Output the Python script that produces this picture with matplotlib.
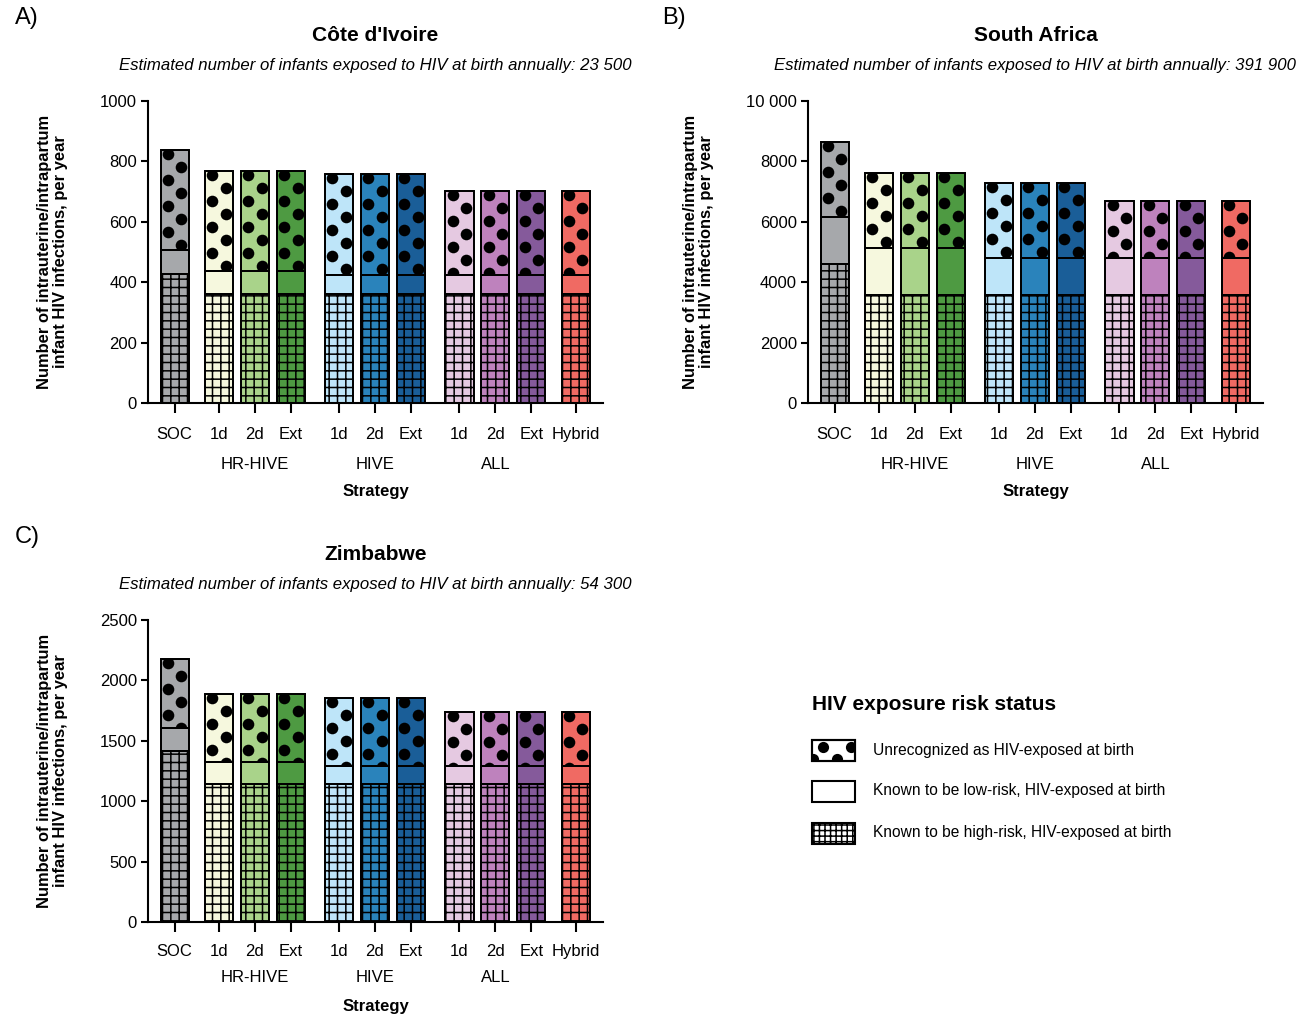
import numpy as np
import matplotlib.pyplot as plt
from matplotlib.patches import Rectangle

plt.rcParams['font.family'] = ['Liberation Sans', 'DejaVu Sans']
plt.rcParams['hatch.linewidth'] = 1.1

# Estrategias (eje x)
estrategias = ['SOC', '1d', '2d', 'Ext', '1d', '2d', 'Ext', '1d', '2d', 'Ext', 'Hybrid']
grupos = ['HR-HIVE', 'HIVE', 'ALL']
indicesGrupos = [[1, 2, 3], [4, 5, 6], [7, 8, 9]]
colores = ['#a6a8ab', '#f6f8de', '#a9d38a', '#4e9a42', '#bee5f9', '#2a83bb',
           '#1a5e98', '#e5c9e1', '#be82bd', '#855a9b', '#f06a63']

# Côte d'Ivoire: alto riesgo, bajo riesgo, no reconocido
ciAlto = [427, 360, 360, 360, 360, 360, 360, 360, 360, 360, 360]
ciBajo = [80, 77, 77, 77, 64, 64, 64, 64, 64, 64, 64]
ciNoRec = [331, 331, 331, 331, 333, 333, 333, 277, 277, 277, 277]

# South Africa
saAlto = [4600, 3580, 3580, 3580, 3580, 3580, 3580, 3580, 3580, 3580, 3580]
saBajo = [1570, 1560, 1560, 1560, 1210, 1210, 1210, 1210, 1210, 1210, 1210]
saNoRec = [2480, 2480, 2480, 2480, 2490, 2490, 2490, 1910, 1910, 1910, 1910]

# Zimbabwe
ziAlto = [1415, 1140, 1140, 1140, 1140, 1140, 1140, 1140, 1140, 1140, 1140]
ziBajo = [193, 185, 185, 185, 151, 151, 151, 151, 151, 151, 151]
ziNoRec = [567, 565, 565, 565, 560, 560, 560, 447, 447, 447, 447]

leyendaTitulo = 'HIV exposure risk status'
leyendaTextos = ['Unrecognized as HIV-exposed at birth',
                 'Known to be low-risk, HIV-exposed at birth',
                 'Known to be high-risk, HIV-exposed at birth']

separacion = [0, 1.23, 1, 1, 1.34, 1, 1, 1.35, 1, 1, 1.23]
posiciones = np.cumsum(separacion)
ancho = 0.78
altoEjePx = 302


def dibujarPanel(ax, alto, bajo, noRec, ymax, paso, etiquetasY, titulo, subtitulo, offsetLabel,
                 offsetGrupo=44.5, offsetEstrategia=64, padX=10):
    alto = np.array(alto)
    bajo = np.array(bajo)
    noRec = np.array(noRec)
    ax.bar(posiciones, alto, ancho, color=colores, edgecolor='black', linewidth=1.3, hatch='++', zorder=2)
    ax.bar(posiciones, bajo, ancho, bottom=alto, color=colores, edgecolor='black', linewidth=1.3, zorder=2)
    barrasPuntos = ax.bar(posiciones, noRec, ancho, bottom=alto + bajo, color=colores,
                          edgecolor='black', linewidth=1.3, zorder=2)

    # puntos negros del segmento no reconocido
    dy = 13 / altoEjePx * ymax
    for barra in barrasPuntos:
        x0 = barra.get_x() + barra.get_width() / 2
        yTop = barra.get_y() + barra.get_height()
        ys = np.arange(yTop - 4 / altoEjePx * ymax, barra.get_y() - dy, -dy)
        xs = x0 + np.where(np.arange(len(ys)) % 2 == 0, -0.19, 0.19)
        sc = ax.scatter(xs, ys, s=70, color='black', linewidths=0, zorder=3)
        sc.set_clip_path(barra)

    # contornos encima
    ax.bar(posiciones, alto, ancho, fill=False, edgecolor='black', linewidth=1.3, zorder=4)
    ax.bar(posiciones, bajo, ancho, bottom=alto, fill=False, edgecolor='black', linewidth=1.3, zorder=4)
    ax.bar(posiciones, noRec, ancho, bottom=alto + bajo, fill=False, edgecolor='black', linewidth=1.3, zorder=4)

    ax.set_xlim(posiciones[0] - 0.74, posiciones[-1] + 0.76)
    ax.set_ylim(0, ymax)
    ax.set_yticks(np.arange(0, ymax + paso, paso))
    ax.set_yticklabels(etiquetasY)
    ax.set_xticks(posiciones)
    ax.set_xticklabels(estrategias)
    ax.tick_params(axis='x', length=7, width=1.5, labelsize=12, pad=padX)
    ax.tick_params(axis='y', length=5, width=1.5, labelsize=12, pad=3)
    ax.spines['top'].set_visible(False)
    ax.spines['right'].set_visible(False)
    ax.spines['left'].set_linewidth(1.5)
    ax.spines['bottom'].set_linewidth(1.5)

    for grupo, idx in zip(grupos, indicesGrupos):
        xc = np.mean(posiciones[idx])
        ax.annotate(grupo, xy=(xc, 0), xycoords=('data', 'axes fraction'), xytext=(0, -offsetGrupo),
                    textcoords='offset points', ha='center', va='center', fontsize=12)
    ax.annotate('Strategy', xy=(0.5, 0), xycoords='axes fraction', xytext=(0, -offsetEstrategia),
                textcoords='offset points', ha='center', va='center', fontsize=12, fontweight='bold')
    ax.annotate('Number of intrauterine/intrapartum\ninfant HIV infections, per year', xy=(0, 0.5),
                xycoords='axes fraction', xytext=(-offsetLabel, 0), textcoords='offset points',
                ha='center', va='center', rotation=90, fontsize=11.9, fontweight='bold',
                multialignment='center', linespacing=1.1)
    ax.annotate(titulo, xy=(0.5, 1), xycoords='axes fraction', xytext=(0, 47),
                textcoords='offset points', ha='center', va='center', fontsize=15, fontweight='bold')
    ax.annotate(subtitulo, xy=(0.5, 1), xycoords='axes fraction', xytext=(0, 25.5),
                textcoords='offset points', ha='center', va='center', fontsize=12.1, style='italic')


fig = plt.figure(figsize=(12.97, 10.17), dpi=100)
W, H = 1297, 1017

# eje auxiliar en pixeles para la leyenda
lax = fig.add_axes([0, 0, 1, 1])
lax.set_xlim(0, W)
lax.set_ylim(H, 0)
lax.axis('off')

axA = fig.add_axes([148 / W, 1 - 403 / H, 455 / W, 302 / H])
axB = fig.add_axes([808 / W, 1 - 403 / H, 455 / W, 302 / H])
axC = fig.add_axes([148 / W, 1 - 922 / H, 455 / W, 302 / H])

dibujarPanel(axA, ciAlto, ciBajo, ciNoRec, 1000, 200,
             ['0', '200', '400', '600', '800', '1000'], "Côte d'Ivoire",
             'Estimated number of infants exposed to HIV at birth annually: 23 500', 69)
dibujarPanel(axB, saAlto, saBajo, saNoRec, 10000, 2000,
             ['0', '2000', '4000', '6000', '8000', '10 000'], 'South Africa',
             'Estimated number of infants exposed to HIV at birth annually: 391 900', 79)
dibujarPanel(axC, ziAlto, ziBajo, ziNoRec, 2500, 500,
             ['0', '500', '1000', '1500', '2000', '2500'], 'Zimbabwe',
             'Estimated number of infants exposed to HIV at birth annually: 54 300', 69,
             offsetGrupo=40, offsetEstrategia=60.5, padX=9)

fig.text(27 / W, 1 - 18 / H, 'A)', fontsize=17, ha='center', va='center')
fig.text(674 / W, 1 - 18 / H, 'B)', fontsize=17, ha='center', va='center')
fig.text(27 / W, 1 - 537 / H, 'C)', fontsize=17, ha='center', va='center')

# leyenda
lax.text(812, 705, leyendaTitulo, fontsize=15, fontweight='bold', va='center', ha='left')
yCajas = [740, 781, 823]
for i, (yc, texto) in enumerate(zip(yCajas, leyendaTextos)):
    caja = Rectangle((812, yc), 43, 21, facecolor='white', edgecolor='black', linewidth=1.5,
                     hatch='+++' if i == 2 else None, zorder=2)
    lax.add_patch(caja)
    if i == 0:
        sc = lax.scatter([813, 823, 837, 851], [759, 747, 759, 747], s=65, color='black',
                         linewidths=0, zorder=3)
        sc.set_clip_path(caja)
        lax.add_patch(Rectangle((812, yc), 43, 21, fill=False, edgecolor='black', linewidth=1.5, zorder=4))
    lax.text(873, yc + 10, texto, fontsize=11.2, va='center', ha='left')

plt.savefig('out.png', dpi=100)
plt.close()
